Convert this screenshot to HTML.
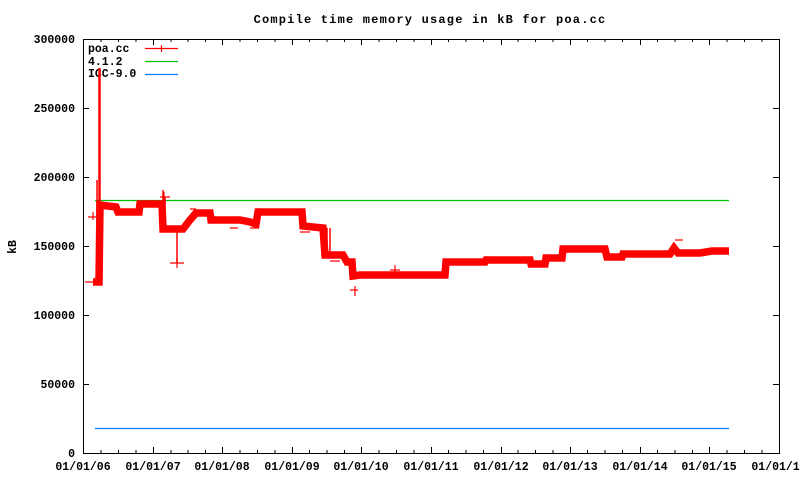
<!DOCTYPE html>
<html><head><meta charset="utf-8"><style>
html,body{margin:0;padding:0;background:#fff;}
svg{display:block;}
text{font-family:"Liberation Mono","DejaVu Sans Mono",monospace;font-weight:bold;fill:#000;}
</style></head><body>
<svg width="800" height="480" viewBox="0 0 800 480" xmlns="http://www.w3.org/2000/svg">
<rect width="800" height="480" fill="#fff"/>
<text x="430" y="23" font-size="12" letter-spacing="1.2" text-anchor="middle">Compile time memory usage in kB for poa.cc</text>
<text x="16" y="247" font-size="11.5" text-anchor="middle" transform="rotate(-90 16 247)">kB</text>
<g font-size="11.5" text-anchor="end">
<text x="75" y="43">300000</text>
<text x="75" y="112">250000</text>
<text x="75" y="181">200000</text>
<text x="75" y="250">150000</text>
<text x="75" y="319">100000</text>
<text x="75" y="388">50000</text>
<text x="75" y="457">0</text>
</g>
<g font-size="11.5" text-anchor="middle">
<text x="83" y="470">01/01/06</text>
<text x="153" y="470">01/01/07</text>
<text x="222" y="470">01/01/08</text>
<text x="292" y="470">01/01/09</text>
<text x="361" y="470">01/01/10</text>
<text x="431" y="470">01/01/11</text>
<text x="501" y="470">01/01/12</text>
<text x="570" y="470">01/01/13</text>
<text x="640" y="470">01/01/14</text>
<text x="709" y="470">01/01/15</text>
<text x="779" y="470">01/01/16</text>
</g>
<g stroke="#000" stroke-width="1" fill="none">
<rect x="83.5" y="39.5" width="696" height="414"/>
<path d="M83 108.5h6M779 108.5h-6M83 177.5h6M779 177.5h-6M83 246.5h6M779 246.5h-6M83 315.5h6M779 315.5h-6M83 384.5h6M779 384.5h-6"/>
<path d="M153.5 453v-6M222.5 453v-6M292.5 453v-6M361.5 453v-6M431.5 453v-6M501.5 453v-6M570.5 453v-6M640.5 453v-6M709.5 453v-6
M101 453v-3M118.5 453v-3M136 453v-3M171 453v-3M188 453v-3M205.5 453v-3M240 453v-3M257.5 453v-3M275 453v-3M309.5 453v-3M327 453v-3M344.5 453v-3M379 453v-3M396.5 453v-3M414 453v-3M448.5 453v-3M466 453v-3M483.5 453v-3M518 453v-3M535.5 453v-3M553 453v-3M587.5 453v-3M605 453v-3M622.5 453v-3M657.5 453v-3M675 453v-3M692.5 453v-3M727 453v-3M744.5 453v-3M762 453v-3"/>
<path d="M153.5 39v6M222.5 39v6M292.5 39v6M361.5 39v6M431.5 39v6M501.5 39v6M570.5 39v6M640.5 39v6M709.5 39v6
M101 39v3M118.5 39v3M136 39v3M171 39v3M188 39v3M205.5 39v3M240 39v3M257.5 39v3M275 39v3M309.5 39v3M327 39v3M344.5 39v3M379 39v3M396.5 39v3M414 39v3M448.5 39v3M466 39v3M483.5 39v3M518 39v3M535.5 39v3M553 39v3M587.5 39v3M605 39v3M622.5 39v3M657.5 39v3M675 39v3M692.5 39v3M727 39v3M744.5 39v3M762 39v3"/>
</g>
<g font-size="11.5">
<text x="88" y="52">poa.cc</text>
<text x="88" y="65">4.1.2</text>
<text x="88" y="77">ICC-9.0</text>
</g>
<path d="M145 48.5h33M161.5 45v7" stroke="#f00" stroke-width="1.2"/>
<path d="M145 61.5h33" stroke="#00c000" stroke-width="1.2"/>
<path d="M145 74.5h33" stroke="#0080ff" stroke-width="1.2"/>
<path d="M95 200.5H729" stroke="#00c000" stroke-width="1.2"/>
<path d="M95 428.5H729" stroke="#0080ff" stroke-width="1.2"/>
<g stroke="#f00" fill="none">
<path stroke-width="1.5" d="M97 282V180M100 68V205M99 205V68M163 190V229M165 197V205M177 229V263M302 214V228M325 228V257M327 228V257M330 228V257M445 275V262M545 264V258M562 258V249M674 246V253"/>
<polyline stroke-width="7.5" stroke-linejoin="miter" points="93,282 99,282 100,205 116,207 118,212 139,212 140,204 162,204 163,229 183,229 190,220 196,213 210,213 211,220 240,220 250,222 256,224 258,212 302,212 303,226 323,228 325,255 343,255 347,262 352,262 353,276 360,275 445,275 446,262 485,262 486,260 530,260 531,264 545,264 546,258 562,258 563,249 605,249 607,257 622,257 623,254 670,254 674,248 678,253 700,253 712,251 729,251"/>
<path stroke-width="1.2" d="M85 282h10M95 278h8M100 207h8M88 217h10M93 212v8M160 197h10M164 192v8M170 263h14M177 258v10M190 209h6M230 228h8M250 228h8M300 232h10M330 261h10M350 290h8M355 286v10M390 270h10M395 265v8M560 252h8M675 240h8M705 252h4"/>
</g>
</svg>
</body></html>
